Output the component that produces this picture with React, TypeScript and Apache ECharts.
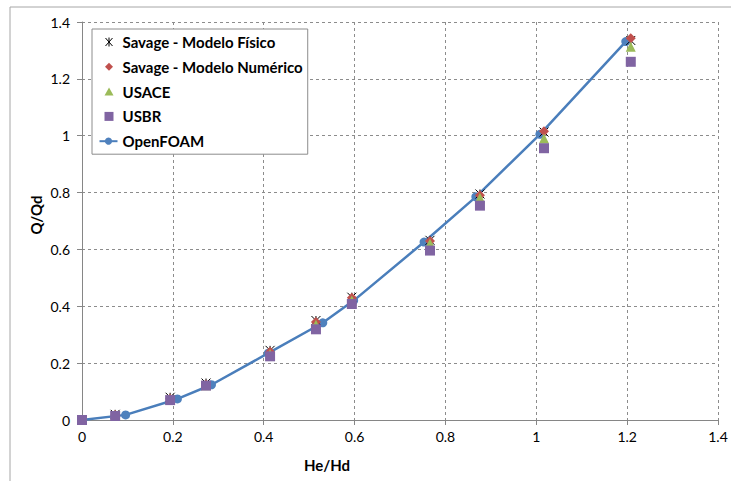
import React, { useEffect, useRef } from "react";
import * as echarts from "echarts";

const xSavage = [0, 0.073, 0.194, 0.273, 0.414, 0.515, 0.594, 0.766, 0.876, 1.017, 1.208];
const ySavageFisico = [0, 0.02, 0.08, 0.13, 0.245, 0.35, 0.432, 0.632, 0.795, 1.013, 1.335];
const ySavageNumerico = [0, 0.018, 0.075, 0.125, 0.24, 0.345, 0.43, 0.63, 0.791, 1.016, 1.343];
const yUSACE = [0, 0.016, 0.072, 0.122, 0.232, 0.335, 0.42, 0.621, 0.782, 0.99, 1.313];
const yUSBR = [0, 0.014, 0.07, 0.121, 0.224, 0.319, 0.408, 0.596, 0.754, 0.956, 1.26];
const xOpenFOAM = [0, 0.096, 0.21, 0.285, 0.41, 0.53, 0.598, 0.753, 0.867, 1.008, 1.197];
const yOpenFOAM = [0, 0.018, 0.074, 0.124, 0.235, 0.342, 0.42, 0.626, 0.785, 1.005, 1.331];

const seriesNames = [
  "Savage - Modelo Físico",
  "Savage - Modelo Numérico",
  "USACE",
  "USBR",
  "OpenFOAM",
];

const FONT = "Lato, 'Open Sans', sans-serif";

const pair = (xs: number[], ys: number[]) => xs.map((x, i) => [x, ys[i]]);

export default function App() {
  const ref = useRef<HTMLDivElement>(null);
  useEffect(() => {
    if (!ref.current) return;
    const chart = echarts.init(ref.current, undefined, { renderer: "svg" });
    const gridLine = { show: true, lineStyle: { color: "#8c8c8c", type: [3, 3], width: 1 } };
    const pad = "M0,0M18,9";
    chart.setOption({
      animation: false,
      backgroundColor: "#fff",
      grid: { left: 82, right: 13, top: 22, bottom: 61 },
      graphic: [
        {
          type: "rect",
          shape: { x: 10, y: 7, width: 760, height: 520 },
          style: { fill: "none", stroke: "#a6a6a6", lineWidth: 1 },
          z: -10,
          silent: true,
        },
        {
          type: "text",
          x: 327,
          y: 465,
          style: {
            text: "He/Hd",
            font: `bold 15px ${FONT}`,
            fill: "#000",
            align: "center",
            verticalAlign: "middle",
          },
        },
        {
          type: "text",
          x: 36,
          y: 215,
          rotation: Math.PI / 2,
          style: {
            text: "Q/Qd",
            font: `bold 15px ${FONT}`,
            fill: "#000",
            align: "center",
            verticalAlign: "middle",
          },
        },
      ],
      legend: {
        orient: "vertical",
        left: 92,
        top: 29,
        data: [
          {
            name: seriesNames[0],
            icon: `path://${pad}M6,0.5L13,8.5M13,0.5L6,8.5M9.5,0L9.5,9`,
            itemStyle: { color: "none", borderColor: "#000", borderWidth: 1 },
          },
          { name: seriesNames[1], icon: `path://${pad}M9.5,0.5L13.5,4.5L9.5,8.5L5.5,4.5Z` },
          { name: seriesNames[2], icon: `path://${pad}M9.5,0.5L14,8.5L5,8.5Z` },
          { name: seriesNames[3], icon: `path://${pad}M5,0L14,0L14,9L5,9Z` },
          { name: seriesNames[4] },
        ],
        backgroundColor: "#fff",
        borderColor: "#8c8c8c",
        borderWidth: 1,
        padding: [5, 5, 5, 5],
        itemGap: 8.8,
        itemWidth: 18,
        itemHeight: 9,
        z: 10,
        textStyle: {
          fontFamily: FONT,
          fontWeight: "bold",
          fontSize: 15,
          lineHeight: 16,
          color: "#000",
        },
      },
      xAxis: {
        type: "value",
        min: 0,
        max: 1.4,
        interval: 0.2,
        axisLine: { show: true, lineStyle: { color: "#868686", width: 1 } },
        axisTick: { show: true, length: 5, lineStyle: { color: "#868686" } },
        axisLabel: { fontFamily: FONT, fontSize: 14, color: "#000", margin: 9 },
        splitLine: gridLine,
      },
      yAxis: {
        type: "value",
        min: 0,
        max: 1.4,
        interval: 0.2,
        axisLine: { show: true, lineStyle: { color: "#868686", width: 1 } },
        axisTick: { show: true, length: 5, lineStyle: { color: "#868686" } },
        axisLabel: { fontFamily: FONT, fontSize: 14, color: "#000", margin: 12 },
        splitLine: gridLine,
      },
      series: [
        {
          name: seriesNames[4],
          type: "line",
          data: pair(xOpenFOAM, yOpenFOAM),
          symbol: "circle",
          symbolSize: 9,
          showAllSymbol: true,
          lineStyle: { color: "#4A7EBB", width: 2.5 },
          itemStyle: { color: "#4F81BD" },
          z: 1,
        },
        {
          name: seriesNames[0],
          type: "scatter",
          data: pair(xSavage, ySavageFisico),
          symbol: "path://M0,0L10,10M10,0L0,10M5,0L5,10",
          symbolSize: 9,
          itemStyle: { color: "none", borderColor: "#000", borderWidth: 1, opacity: 1 },
          z: 2,
        },
        {
          name: seriesNames[1],
          type: "scatter",
          data: pair(xSavage, ySavageNumerico),
          symbol: "diamond",
          symbolSize: 10,
          itemStyle: { color: "#C0504D", opacity: 1 },
          z: 3,
        },
        {
          name: seriesNames[2],
          type: "scatter",
          data: pair(xSavage, yUSACE),
          symbol: "triangle",
          symbolSize: 10,
          itemStyle: { color: "#9BBB59", opacity: 1 },
          z: 4,
        },
        {
          name: seriesNames[3],
          type: "scatter",
          data: pair(xSavage, yUSBR),
          symbol: "rect",
          symbolSize: 10,
          itemStyle: { color: "#8064A2", opacity: 1 },
          z: 5,
        },
      ],
    });
    return () => chart.dispose();
  }, []);
  return <div ref={ref} style={{ width: 731, height: 481, position: "absolute", left: 0, top: 0 }} />;
}
